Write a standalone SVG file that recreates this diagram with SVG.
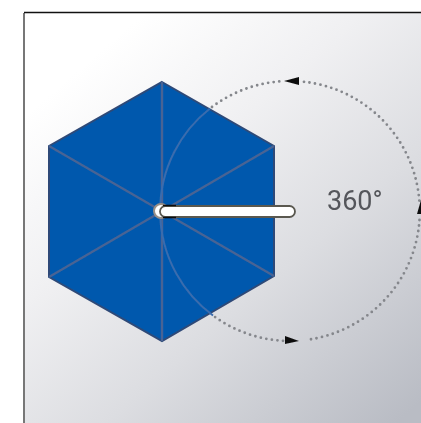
<svg xmlns="http://www.w3.org/2000/svg" width="421" height="423" viewBox="0 0 421 423">
<defs>
<linearGradient id="bg" gradientUnits="userSpaceOnUse" x1="90" y1="60" x2="400" y2="420">
<stop offset="0" stop-color="#ffffff"/>
<stop offset="0.3" stop-color="#f0f0f2"/>
<stop offset="0.6" stop-color="#dcdde1"/>
<stop offset="1" stop-color="#b9bcc4"/>
</linearGradient>
<filter id="soft" x="-5%" y="-5%" width="110%" height="110%"><feGaussianBlur stdDeviation="0.6"/></filter>
</defs>
<style>
.rib{stroke:#4a6494;stroke-width:2.200;fill:none}
.dots{stroke:#85878c;stroke-width:2.800;stroke-linecap:round;stroke-dasharray:0 5.600;fill:none}
.head{fill:#111}
text{font-family:Roboto,"Liberation Sans",sans-serif;font-size:27px;fill:#55575b}
</style>
<rect x="0" y="0" width="421" height="423" fill="#fff"/>
<rect id="panel" x="24" y="12.500" width="397" height="410.500" fill="url(#bg)"/>
<path id="frame" d="M24 423V13" stroke="#777" stroke-width="2" fill="none"/>
<path d="M24 12.500H421" stroke="#111" stroke-width="1.500" fill="none"/>
<g id="hexagon" filter="url(#soft)">
<polygon points="162,82 274,146 274,276 162,341 49,277 49,146" fill="#0059ad" stroke="#2f4a78" stroke-width="2"/>
<path class="rib" d="M162 82V341M49 146L274 276M49 277L274 146"/>
<path d="M210 108.500A130 130 0 0 0 213 315.500" stroke="#3a6cae" stroke-width="2" fill="none"/>
</g>
<g id="connectors" filter="url(#soft)">
<path class="dots" d="M212 107A130 130 0 0 1 280 81.400"/>
<path class="dots" d="M304 81.800A130 130 0 0 1 419.500 203"/>
<path class="dots" d="M419.500 220A130 130 0 0 1 306 340"/>
<path class="dots" d="M283 340.800A130 130 0 0 1 215 317"/>
<polygon class="head" points="284,81 299,77 299,85"/>
<polygon class="head" points="299,341 285,336 285,344"/>
<polygon class="head" points="421,200 417,214 421,214"/>
</g>
<g id="handle" filter="url(#soft)">
<circle cx="161" cy="211" r="7" fill="#fff" stroke="#9a9088" stroke-width="2"/>
<rect x="160" y="206" width="135" height="11" rx="5.500" fill="#fff" stroke="#5a5850" stroke-width="1.800"/>
<path d="M163 205.500H176M163 217.500H176" stroke="#111" stroke-width="1.500"/>
</g>
<g id="label" filter="url(#soft)"><text x="327" y="210">360°</text></g>
</svg>
